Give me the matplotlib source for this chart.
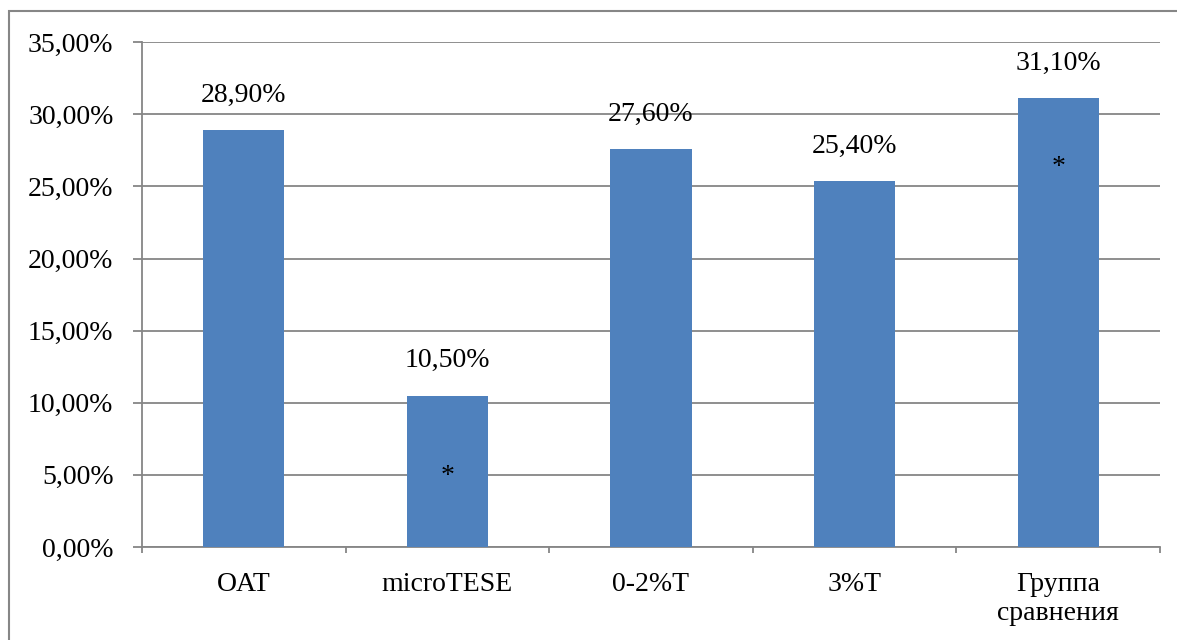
import matplotlib.pyplot as plt
from matplotlib.patches import Rectangle
from matplotlib.ticker import FuncFormatter, MultipleLocator

# group names and percentages
groups = ['OAT', 'microTESE', '0-2%T', '3%T', 'Группа\nсравнения']
values = [28.9, 10.5, 27.6, 25.4, 31.1]
# significance marks: (group index, height in %)
stars = [(1, 4.9), (4, 26.3)]

plt.rcParams['font.family'] = ['Liberation Serif', 'DejaVu Serif']
plt.rcParams['font.size'] = 20

fig = plt.figure(figsize=(11.77, 6.4), dpi=100)
ax = fig.add_axes([0.1206, 0.1453, 0.8650, 0.7887])

grid_c = '#868686'
x = range(len(groups))
ax.bar(x, values, width=0.4, color='#4F81BD', zorder=3)

for i, v in zip(x, values):
    ax.annotate(f'{v:.2f}%'.replace('.', ','), (i, v), xytext=(0, 16),
                textcoords='offset points', ha='center', va='bottom')
for i, h in stars:
    ax.text(i, h, '*', ha='center', va='center', zorder=4)

ax.set_xlim(-0.5, len(groups) - 0.5)
ax.set_ylim(0, 35)
ax.yaxis.set_major_locator(MultipleLocator(5))
ax.yaxis.set_major_formatter(FuncFormatter(lambda v, p: f'{v:.2f}%'.replace('.', ',')))
ax.grid(axis='y', color=grid_c, linewidth=1.3, zorder=0)

ax.set_xticks(x)
ax.set_xticklabels(groups, linespacing=1.2)
ax.set_xticks([i - 0.5 for i in range(len(groups) + 1)], minor=True)
ax.tick_params(axis='x', which='major', length=0, pad=18)
ax.tick_params(axis='x', which='minor', length=4.5, color=grid_c, width=1.3)
ax.tick_params(axis='y', length=6.5, color=grid_c, width=1.3, pad=14)

for s in ['top', 'right']:
    ax.spines[s].set_visible(False)
for s in ['left', 'bottom']:
    ax.spines[s].set_color(grid_c)
    ax.spines[s].set_linewidth(1.3)

# outer chart frame
fig.patches.append(Rectangle((9 / 1177, -0.1), 1.2, 1.1 - 11 / 640, transform=fig.transFigure,
                             fill=False, edgecolor='#868686', linewidth=1.5))

fig.savefig('out.png', dpi=100)
